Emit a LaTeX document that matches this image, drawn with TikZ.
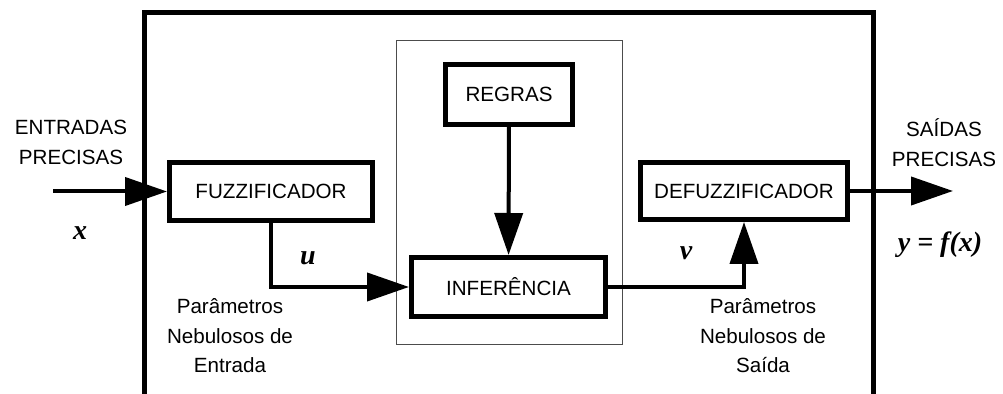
\documentclass[tikz,border=0pt]{standalone}
\usepackage{fontspec}
\setmainfont{Liberation Sans}
\newfontfamily\signalfont{Liberation Serif}
\usetikzlibrary{arrows.meta,positioning}
\tikzset{
  every node/.style={
    font=\fontsize{10.3}{14.8}\selectfont
  },
  block/.style 2 args={
    shape=rectangle,
    draw=black,
    line width=2.5pt,
    minimum width=#1,
    minimum height=#2,
    inner sep=0pt,
    text centered
  },
  flow/.style={
    line width=2pt,
    -{Triangle[length=21pt,width=14pt]}
  },
  frame/.style={
    line width=2.5pt
  },
  group/.style={
    draw=black!70,
    line width=0.5pt
  },
  signal/.style={
    font=\signalfont\bfseries\itshape\fontsize{14}{16}\selectfont
  },
  caption/.style={
    align=center
  }
}
\begin{document}
\begin{tikzpicture}[x=0.5pt,y=-0.5pt]
    \useasboundingbox (0,0) rectangle (1003,394);
    \draw [frame] (144.5,394) -- (144.5,12.5) -- (873,12.5) -- (873,394);
    \draw [group] (396,41) rectangle (622,345);

    \node [block={101.5pt}{29pt}] (fuzz) at (271,191.5) {FUZZIFICADOR};
    \node [block={63.5pt}{30pt}] (regras) at (509,94.5) {REGRAS};
    \node [block={97pt}{29.5pt}] (infer) at (508.5,287) {INFER\^ENCIA};
    \node [block={103.5pt}{28.5pt}] (defuzz) at (744,191) {DEFUZZIFICADOR};

    \coordinate (in) at (53,191.5);
    \coordinate (out) at (953,191);

    \draw [flow] (in) -- (fuzz.west);
    \draw [flow] (fuzz.south) |- (infer.west);
    \draw [flow] (regras) -- (infer);
    \draw [flow] (infer.east) -| (defuzz.south);
    \draw [flow] (defuzz.east) -- (out);

    \node [caption] (entradas) at (71,142.5) {ENTRADAS\\PRECISAS};
    \node [caption] (saidas) at (944,142.5) {SAÍDAS\\PRECISAS};
    \node [caption] (parent) at (230,336) {Parâmetros\\Nebulosos de\\Entrada};
    \node [caption] (parsai) at (763,336) {Parâmetros\\Nebulosos de\\Saída};

    \node [signal] (xlab) at (80,233) {x};
    \node [signal] (ulab) at (308,258) {u};
    \node [signal] (vlab) at (686,253) {v};
    \node [signal] (ylab) at (940,245) {y = f(x)};
\end{tikzpicture}
\end{document}
